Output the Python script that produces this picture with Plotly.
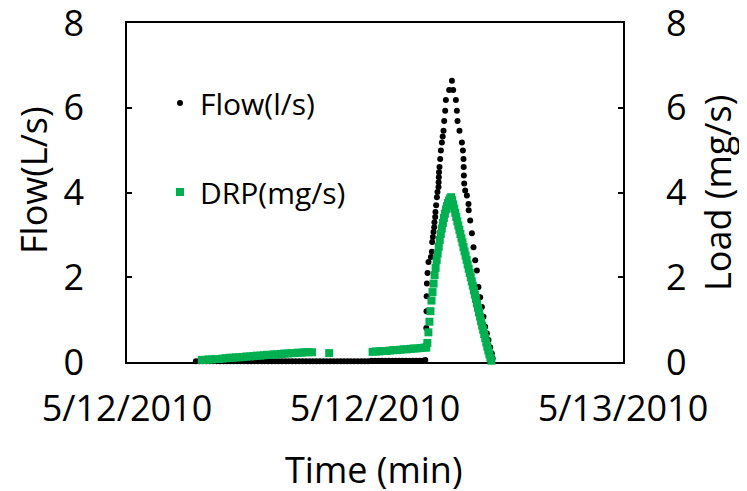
import plotly.graph_objects as go

# ---------------- data (minutes after 5/12/2010 00:00) ----------------
tick_vals = [0, 720, 1440]
tick_text = ["5/12/2010", "5/12/2010", "5/13/2010"]

flow_min = [200, 210, 220, 230, 240, 250, 260, 270, 280, 290, 300, 310, 320, 330, 340,
            350, 360, 370, 380, 390, 400, 410, 420, 430, 440, 450, 460, 470, 480, 490,
            500, 510, 520, 530, 540, 550, 560, 570, 580, 590, 600, 610, 620, 630, 640,
            650, 660, 670, 680, 690, 700, 710, 720, 730, 740, 750, 760, 770, 780, 790,
            800, 810, 820, 830, 840, 850, 860, 866, 868, 869, 869.5, 870, 870.7, 872.5,
            875.3, 882.3, 885.2, 886, 888, 889.8, 891.9, 892.5, 894.8, 895.5, 897.5,
            899.7, 901.4, 904.3, 904.8, 905.3, 905.8, 907.2, 909.3, 911.3, 914.2, 916.5,
            918.9, 920.9, 923.8, 925.8, 935.4, 943.3, 947, 954.8, 957.7, 959.5, 965.3,
            972.3, 975.2, 976.9, 977.5, 978, 979, 981.8, 986.8, 991.4, 992, 996.4,
            1001.3, 1005.9, 1010.9, 1015.8, 1020.4, 1025.4, 1030.3, 1035, 1039.9,
            1044.8, 1049.5, 1054.4, 1059.3, 1061.5]
flow_val = [0.02, 0.02, 0.02, 0.02, 0.02, 0.02, 0.02, 0.02, 0.02, 0.02, 0.02, 0.02, 0.02, 0.02, 0.02,
            0.02, 0.02, 0.02, 0.02, 0.02, 0.02, 0.02, 0.02, 0.02, 0.02, 0.02, 0.02, 0.02, 0.02, 0.02,
            0.02, 0.02, 0.02, 0.02, 0.02, 0.02, 0.02, 0.02, 0.02, 0.02, 0.02, 0.02, 0.02, 0.02, 0.02,
            0.02, 0.02, 0.02, 0.02, 0.02, 0.02, 0.03, 0.03, 0.03, 0.03, 0.03, 0.03, 0.03, 0.03, 0.03,
            0.03, 0.03, 0.03, 0.03, 0.03, 0.03, 0.03, 0.05, 0.40, 0.80, 1.20, 1.55, 1.85, 2.10,
            2.36, 2.48, 2.60, 2.83, 2.95, 3.07, 3.18, 3.30, 3.42, 3.54, 3.70,
            3.89, 4.01, 4.13, 4.24, 4.36, 4.48, 4.60, 4.79, 4.99, 5.18, 5.32,
            5.46, 5.69, 5.93, 6.18, 6.42, 6.64, 6.42, 6.18, 5.93, 5.69, 5.46,
            5.18, 4.99, 4.79, 4.60, 4.40, 4.21, 4.05, 3.93, 3.73, 3.58, 3.34,
            3.04, 2.71, 2.40, 2.16, 1.77, 1.53, 1.30, 1.07, 0.83,
            0.67, 0.52, 0.35, 0.20, 0.09]

drp_min = [217, 227, 237, 247, 257, 267, 277,
           217, 227, 237, 247, 257, 267, 277,
           287, 297, 307, 317, 327, 337, 347, 357, 367, 377, 387, 397, 407, 417, 427,
           437, 447, 457, 467, 477, 487, 497, 507, 517, 527, 537,
           447, 457, 467, 477, 487, 497, 507, 517, 527, 537, 547, 557, 567, 577, 587,
           597, 607, 617, 627, 637, 647, 657, 667, 677, 687, 697, 707, 717,
           587,
           713, 723, 733, 743, 753, 763, 773, 783, 793, 803, 813, 823, 833, 843, 853, 863, 869,
           872, 875, 878, 881, 884, 887, 890, 893, 896, 899, 902, 905, 908, 911, 914, 917,
           920, 923, 926, 929, 932, 935, 938, 941,
           944, 947, 950, 953, 956, 959, 962, 965, 968, 971, 974, 977, 980, 983, 986, 989,
           992, 995, 998, 1001, 1004, 1007, 1010, 1013, 1016, 1019, 1022, 1025, 1028, 1031,
           1034, 1037, 1040, 1043, 1046, 1049, 1052, 1055, 1058]
drp_val = [-0.02, -0.02, -0.02, -0.02, -0.02, -0.02, -0.02,
           0.05, 0.05, 0.06, 0.06, 0.07, 0.07, 0.08,
           0.09, 0.10, 0.10, 0.11, 0.11, 0.12, 0.13, 0.13, 0.14, 0.15, 0.15, 0.16, 0.17, 0.17, 0.18,
           0.18, 0.19, 0.20, 0.20, 0.21, 0.21, 0.22, 0.22, 0.23, 0.23, 0.23,
           -0.03, -0.03, -0.03, -0.03, -0.03, -0.03, -0.03, -0.03, -0.03, -0.03, -0.03, -0.03, -0.03, -0.03, -0.03,
           -0.03, -0.03, -0.03, -0.03, -0.03, -0.03, -0.03, -0.03, -0.03, -0.03, -0.03, -0.03, -0.03,
           0.21,
           0.24, 0.25, 0.25, 0.26, 0.26, 0.27, 0.28, 0.28, 0.29, 0.30, 0.30, 0.31, 0.32, 0.32, 0.33, 0.34, 0.34,
           0.45, 0.70, 0.95, 1.20, 1.45, 1.65, 1.85, 2.05, 2.22, 2.40, 2.56, 2.72, 2.88, 3.02, 3.15, 3.28,
           3.40, 3.50, 3.60, 3.68, 3.75, 3.81, 3.86, 3.89,
           3.82, 3.72, 3.62, 3.52, 3.42, 3.32, 3.22, 3.12, 3.02, 2.92, 2.82, 2.71, 2.61, 2.51, 2.41, 2.30,
           2.20, 2.10, 2.00, 1.90, 1.80, 1.69, 1.59, 1.49, 1.38, 1.28, 1.17, 1.07, 0.96, 0.86,
           0.76, 0.66, 0.56, 0.46, 0.36, 0.27, 0.18, 0.10, 0.03]

y_ticks = [0, 2, 4, 6, 8]

# ---------------- figure ----------------
FONT = "Open Sans"
GREEN = "#00B050"
OFF = 8                      # page body margin of the browser
WW, WH = 747, 491            # window size
W, H = WW - OFF, WH - OFF    # figure size
PL, PR, PT, PB = 127, 623, 23, 362   # plot area in window pixels
L, T = PL - OFF, PT - OFF
R, B = W - (PR - OFF), H - (PB - OFF)
pw, ph = PR - PL, PB - PT

def px(x):
    return (x - PL) / pw

def py(y):
    return (PB - y) / ph

fig = go.Figure()
fig.add_trace(go.Scatter(
    x=flow_min, y=flow_val, mode="markers", name="Flow(l/s)",
    marker=dict(symbol="circle", size=6, color="black"),
    cliponaxis=False, legendgroup="a"))
fig.add_trace(go.Scatter(
    x=drp_min, y=drp_val, mode="markers", name="DRP(mg/s)",
    marker=dict(symbol="square", size=8, color=GREEN),
    cliponaxis=False, legendgroup="b", yaxis="y2"))

axis_common = dict(range=[0, 8], tickvals=y_ticks, ticks="inside", ticklen=5,
                   tickwidth=1.5, tickcolor="black", showgrid=False, zeroline=False,
                   showline=True, linecolor="black", linewidth=1.5,
                   ticklabeloverflow="allow", automargin=False, layer="below traces",
                   tickfont=dict(family=FONT, size=36, color="black"))

fig.update_layout(
    width=W, height=H,
    margin=dict(l=L, r=R, t=T, b=B, pad=0, autoexpand=False),
    paper_bgcolor="white", plot_bgcolor="white",
    showlegend=True,
    legend=dict(x=px(160), y=py(77), xanchor="left", yanchor="top",
                bgcolor="rgba(0,0,0,0)", borderwidth=0,
                font=dict(family=FONT, size=30, color="black"),
                traceorder="grouped", tracegroupgap=47),
    xaxis=dict(range=[0, 1440], tickvals=tick_vals, ticktext=tick_text,
               ticks="", showgrid=False, zeroline=False, automargin=False,
               showline=True, mirror=True, linecolor="black", linewidth=1.5,
               ticklabelstandoff=14, ticklabeloverflow="allow", layer="below traces",
               tickfont=dict(family=FONT, size=36, color="black")),
    yaxis=dict(side="left", ticklabelstandoff=34, **axis_common),
    yaxis2=dict(side="right", overlaying="y", ticklabelstandoff=34, **axis_common),
    annotations=[
        dict(text="Flow(L/s)", x=px(33), y=py(180), xref="paper", yref="paper",
             textangle=-90, showarrow=False, xanchor="center", yanchor="middle",
             font=dict(family=FONT, size=36, color="black")),
        dict(text="Load (mg/s)", x=px(717), y=py(193), xref="paper", yref="paper",
             textangle=-90, showarrow=False, xanchor="center", yanchor="middle",
             font=dict(family=FONT, size=36, color="black")),
        dict(text="Time (min)", x=px(374), y=py(469), xref="paper", yref="paper",
             showarrow=False, xanchor="center", yanchor="middle",
             font=dict(family=FONT, size=36, color="black")),
    ],
)

fig.write_html("out.html")
